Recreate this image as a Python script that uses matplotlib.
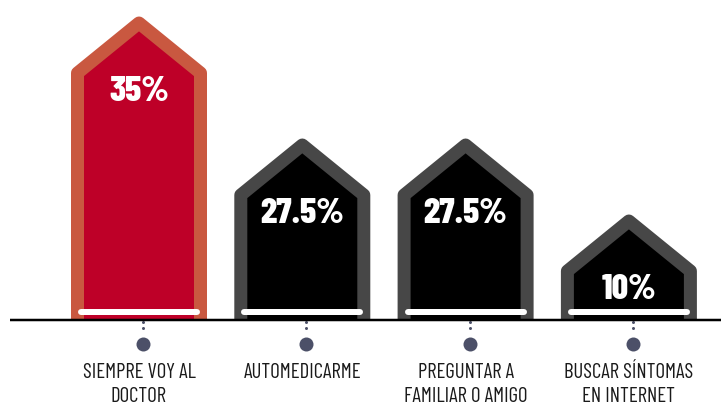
import matplotlib
matplotlib.use("Agg")
import matplotlib.pyplot as plt
from matplotlib.patches import Polygon, Rectangle

# ---- data ----
categories = ["SIEMPRE VOY AL\nDOCTOR", "AUTOMEDICARME",
              "PREGUNTAR A\nFAMILIAR O AMIGO", "BUSCAR SÍNTOMAS\nEN INTERNET"]
values = [35, 27.5, 27.5, 10]
value_labels = ["35%", "27.5%", "27.5%", "10%"]
# visual height of each house shape (as drawn in the infographic)
shape_heights = [296, 174, 174, 98]

fill_colors = ["#BE0028", "#000000", "#000000", "#000000"]
edge_colors = ["#C95840", "#474747", "#474747", "#474747"]

FONT = ["Barlow Condensed", "DejaVu Sans"]

DPI = 100
W, H = 721, 404
fig = plt.figure(figsize=(W / DPI, H / DPI), dpi=DPI)
ax = fig.add_axes([0, 0, 1, 1])
ax.set_axis_off()

spacing_px = 163.3
x0_px = 139
ax.set_xlim(-x0_px / spacing_px, (W - x0_px) / spacing_px)
base_px = 319
ax.set_ylim(-(H - base_px), base_px)

px = 1.0 / spacing_px          # one pixel in x data units
pt = 72.0 / DPI                # one pixel in points
half_w = 61.5 * px
roof = 50

clip_rect = Rectangle((-5, 0), 20, 1000, transform=ax.transData)

for i, (h, fc, ec) in enumerate(zip(shape_heights, fill_colors, edge_colors)):
    c = i
    shoulder = h - roof
    verts = [(c - half_w, -20), (c - half_w, shoulder), (c, h),
             (c + half_w, shoulder), (c + half_w, -20)]
    poly = Polygon(verts, closed=True, facecolor=fc, edgecolor=ec,
                   linewidth=13 * pt, joinstyle="round", zorder=2)
    ax.add_patch(poly)
    poly.set_clip_path(clip_rect)
    # white capsule at bottom
    ax.plot([c - 58 * px, c + 58 * px], [7, 7], color="white",
            lw=6 * pt, solid_capstyle="round", zorder=3)
    # value label
    ax.text(c, h - 78, value_labels[i], color="white", ha="center",
            va="baseline", fontsize=26, fontweight=800,
            family=FONT, zorder=4)
    # dots
    dx = c + 4 * px
    ax.plot([dx, dx], [-3, -9], "o", color="#4C5068", ms=3 * pt,
            mec="none", zorder=4)
    ax.plot([dx], [-25], "o", color="#4C5068", ms=14 * pt, mec="none",
            zorder=4)
    # category label
    for j, line in enumerate(categories[i].split("\n")):
        ax.text(c, -58.5 - 25 * j, line, ha="center", va="baseline",
                fontsize=15, color="#1a1a1a", family=FONT)

# baseline axis line
ax.plot([-x0_px / spacing_px + 10 * px, (W - x0_px) / spacing_px], [-0.5, -0.5],
        color="black", lw=2.5 * pt, solid_capstyle="butt", zorder=5)

fig.savefig("out.png", dpi=DPI)
